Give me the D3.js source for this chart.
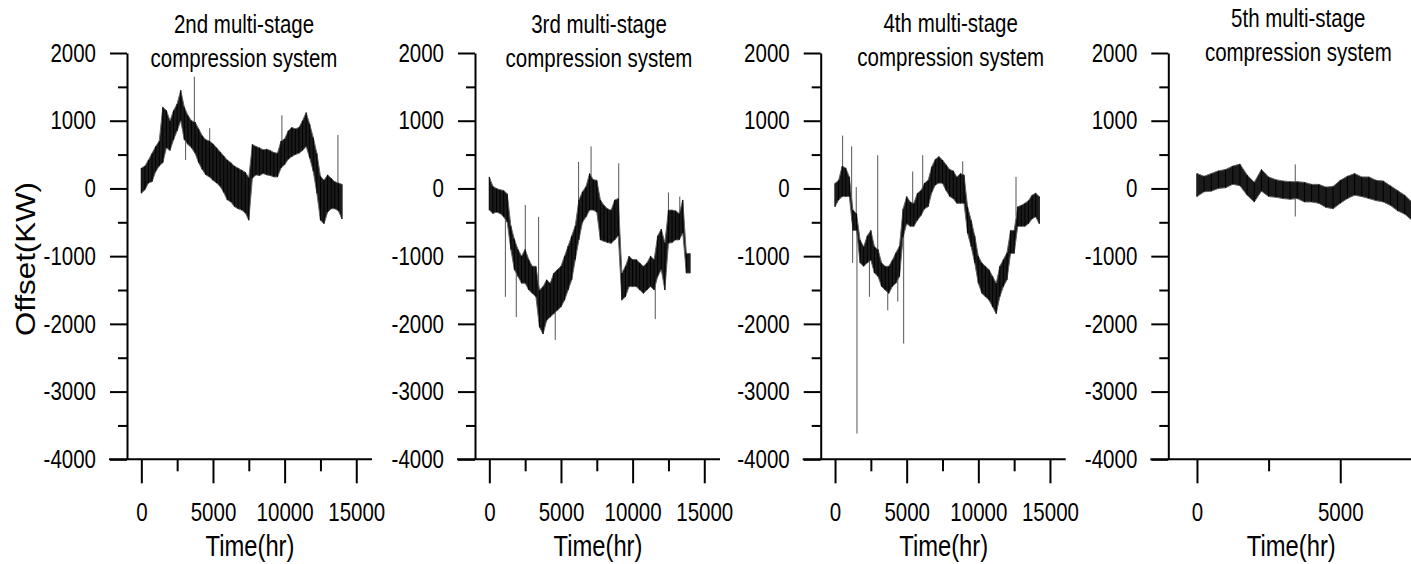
<!DOCTYPE html>
<html>
<head>
<meta charset="utf-8">
<script src="https://cdn.jsdelivr.net/npm/d3@7"></script>
<style>
  body { margin: 0; background: #fff; }
  text { font-family: "Liberation Sans", Arial, sans-serif; fill: #000; }
</style>
</head>
<body>
<svg id="chart" width="1411" height="564"></svg>
<script>
// ---- data (hours, kW) ----
const titles = ["2nd multi-stage", "3rd multi-stage", "4th multi-stage", "5th multi-stage"];
const subtitle = "compression system";
const yLabel = "Offset(KW)";
const xLabel = "Time(hr)";

const yMajor = [-4000, -3000, -2000, -1000, 0, 1000, 2000];
const yMinor = [-3500, -2500, -1500, -500, 500, 1500];
const xMajorLong = [0, 5000, 10000, 15000];
const xMinorLong = [2500, 7500, 12500];
const xMajorShort = [0, 5000];
const xMinorShort = [2500, 7500];

const hours2 = d3.range(0, 14001, 250);
const lo2 = [-70,-20,80,100,250,330,380,600,560,720,850,1000,720,650,600,520,380,280,200,170,120,80,30,-60,-170,-200,-270,-300,-320,-360,-470,150,200,190,220,200,190,170,170,300,350,430,470,500,520,560,620,450,250,-70,-470,-520,-350,-300,-300,-330,-450];
const hi2 = [300,330,420,520,620,700,1200,1150,1000,1150,1250,1450,1200,1080,1000,980,880,780,720,700,660,600,540,480,420,380,330,300,270,240,160,650,620,600,570,580,560,530,520,700,730,850,900,880,900,1000,1120,950,750,520,180,120,200,150,100,80,60];
const spikes2 = [[3090, 420], [3700, 1650], [4770, 890], [9810, 1080], [13720, 790]];

const hours3 = d3.range(0, 14001, 250);
const lo3 = [-320,-370,-350,-370,-420,-500,-900,-1200,-1300,-1400,-1400,-1500,-1550,-1600,-2050,-2150,-1950,-1900,-1850,-1800,-1750,-1650,-1500,-1350,-1050,-760,-500,-420,-320,-320,-350,-760,-780,-800,-810,-760,-700,-1650,-1600,-1450,-1450,-1450,-1500,-1550,-1500,-1450,-1500,-1300,-1200,-1500,-810,-800,-760,-760,-660,-1250,-1250];
const hi3 = [170,30,0,-20,-30,-80,-550,-750,-900,-1000,-900,-1050,-1150,-1150,-1500,-1450,-1350,-1400,-1250,-1200,-1150,-1000,-850,-700,-550,-170,-50,30,220,130,120,-170,-250,-300,-320,-170,-150,-1250,-1150,-1000,-1050,-1050,-1100,-1150,-1100,-1000,-1050,-700,-600,-800,-320,-320,-330,-370,-170,-960,-960];
const spikes3 = [[1120, -1600], [1880, -1900], [2510, -245], [3440, -420], [4600, -2240], [6230, 390], [7100, 620], [9030, 370], [11580, -1930], [12500, -60], [13290, -120]];

const hours4 = d3.range(0, 14251, 250);
const lo4 = [-270,-170,-120,-120,-120,-620,-620,-1100,-1150,-1100,-1060,-1250,-1300,-1450,-1500,-1550,-1450,-1400,-1300,-720,-520,-560,-560,-470,-400,-300,-270,-60,50,80,75,-30,-120,-150,-220,-220,-220,-660,-860,-1100,-1400,-1550,-1600,-1650,-1750,-1850,-1600,-1450,-1350,-960,-960,-560,-560,-560,-520,-450,-420,-520];
const hi4 = [75,120,330,300,170,-320,-370,-760,-860,-700,-620,-860,-900,-1100,-1150,-1150,-1060,-950,-850,-300,-120,-200,-220,-70,-30,80,120,320,430,470,420,350,280,260,170,220,200,-270,-470,-700,-1000,-1100,-1150,-1200,-1300,-1400,-1150,-1050,-950,-620,-620,-270,-250,-220,-180,-100,-70,-120];
const spikes4 = [[530, 780], [1160, 620], [1230, -1100], [1480, 20], [1530, -3620], [2400, -1600], [2980, 490], [3680, -1800], [4380, -1670], [4790, -2290], [5420, 250], [6120, 490], [8910, 400], [12630, 170]];

const hours5 = d3.range(0, 7501, 250);
const lo5 = [-120,-50,-40,0,10,60,40,-100,-200,-40,-120,-130,-150,-160,-150,-200,-200,-220,-280,-300,-220,-150,-100,-120,-150,-180,-200,-250,-330,-380,-470];
const hi5 = [220,180,220,260,280,330,360,200,90,280,170,130,110,100,100,90,60,60,20,30,120,180,220,170,170,120,110,40,-30,-100,-200];
const spikes5 = [[3430, -415], [3430, 355]];

// ---- layout ----
const panels = [
  { left: 127,    xMax: 16000, hours: hours2, lo: lo2, hi: hi2, spikes: spikes2, major: xMajorLong,  minor: xMinorLong,  titleDx: 117, titleY: 33 },
  { left: 475,    xMax: 16000, hours: hours3, lo: lo3, hi: hi3, spikes: spikes3, major: xMajorLong,  minor: xMinorLong,  titleDx: 124, titleY: 33 },
  { left: 820.7,  xMax: 16000, hours: hours4, lo: lo4, hi: hi4, spikes: spikes4, major: xMajorLong,  minor: xMinorLong,  titleDx: 130, titleY: 32 },
  { left: 1168.3, xMax: 7500,  hours: hours5, lo: lo5, hi: hi5, spikes: spikes5, major: xMajorShort, minor: xMinorShort, titleDx: 130, titleY: 27 }
];
const plotW = 243.6;
const squeeze = 0.82; // the reference uses a condensed sans

// move x/y of a text into a transform so it can be squeezed horizontally
function narrow(sel) {
  sel.each(function () {
    const t = d3.select(this);
    const tx = +t.attr("x") || 0, ty = +t.attr("y") || 0;
    t.attr("x", 0).attr("y", 0).attr("transform", `translate(${tx},${ty}) scale(${squeeze},1)`);
  });
}

const svg = d3.select("#chart");
const y = d3.scaleLinear().domain([-4000, 2000]).range([459.3, 53]);

panels.forEach((p, i) => {
  const x = d3.scaleLinear().domain([-1000, p.xMax]).range([p.left, p.left + plotW]);
  const g = svg.append("g");

  // series: filled noise band + outlier spikes
  const rows = p.hours.map((t, k) => ({ t, lo: p.lo[k], hi: p.hi[k] }));

  g.selectAll("line.spike")
    .data(p.spikes)
    .enter().append("line")
    .attr("class", "spike")
    .attr("x1", d => x(d[0]))
    .attr("x2", d => x(d[0]))
    .attr("y1", d => {
      const r = rows[d3.bisectCenter(p.hours, d[0])];
      return y((r.lo + r.hi) / 2);
    })
    .attr("y2", d => y(d[1]))
    .attr("stroke", "#555")
    .attr("stroke-width", 1);

  g.append("path")
    .datum(rows)
    .attr("d", d3.area().x(d => x(d.t)).y0(d => y(d.lo)).y1(d => y(d.hi)))
    .attr("fill", "#1a1a1a")
    .attr("stroke", "#666")
    .attr("stroke-width", 1)
    .attr("stroke-linejoin", "bevel");

  // one hairline per sample, like the dense raw trace
  g.selectAll("line.hair")
    .data(rows)
    .enter().append("line")
    .attr("class", "hair")
    .attr("x1", d => x(d.t)).attr("x2", d => x(d.t))
    .attr("y1", d => y(d.lo)).attr("y2", d => y(d.hi))
    .attr("stroke", "#000")
    .attr("stroke-width", 1);

  // x axis
  const gx = g.append("g").attr("transform", `translate(0,${y(-4000)})`);
  const gxMinor = g.append("g").attr("transform", `translate(0,${y(-4000)})`);
  gx.call(d3.axisBottom(x).tickValues(p.major).tickSize(24).tickFormat(d => String(d)));
  gxMinor.call(d3.axisBottom(x).tickValues(p.minor).tickSize(12).tickFormat(""));
  g.selectAll(".domain").remove();
  g.selectAll(".tick line").attr("stroke", "#000").attr("stroke-width", 2);
  gx.selectAll(".tick text").attr("y", 62).attr("dy", 0).attr("font-size", 25).attr("font-family", null).call(narrow);
  gx.append("line")
    .attr("x1", p.left - 18).attr("x2", p.left + 245)
    .attr("stroke", "#000").attr("stroke-width", 2);

  // y axis
  const gyMinor = g.append("g").attr("transform", `translate(${p.left},0)`);
  const gy = g.append("g").attr("transform", `translate(${p.left},0)`);
  gyMinor.call(d3.axisLeft(y).tickValues(yMinor).tickSize(9).tickSizeOuter(0).tickFormat(""));
  gy.call(d3.axisLeft(y).tickValues(yMajor).tickSize(17).tickSizeOuter(0).tickFormat(d => String(d)));
  gyMinor.select(".domain").remove();
  gy.select(".domain").attr("stroke", "#000").attr("stroke-width", 2);
  gy.selectAll(".tick line").attr("stroke", "#000").attr("stroke-width", 2);
  gyMinor.selectAll(".tick line").attr("stroke", "#000").attr("stroke-width", 2);
  gy.selectAll(".tick text").attr("x", -31).attr("dy", "0.33em").attr("font-size", 25).attr("font-family", null).call(narrow);

  // titles
  const tx = p.left + p.titleDx;
  g.append("text").attr("x", tx).attr("y", p.titleY).attr("text-anchor", "middle")
    .attr("font-size", 25).text(titles[i]).call(narrow);
  g.append("text").attr("x", tx).attr("y", p.titleY + 34).attr("text-anchor", "middle")
    .attr("font-size", 25).text(subtitle).call(narrow);

  // x label
  g.append("text").attr("x", p.left + 123).attr("y", 556).attr("text-anchor", "middle")
    .attr("font-size", 29).text(xLabel).call(narrow);
});

svg.selectAll("g[font-family]").attr("font-family", null);

svg.append("text")
  .attr("transform", "translate(35,259) rotate(-90)")
  .attr("text-anchor", "middle")
  .attr("font-size", 28)
  .attr("textLength", 154)
  .attr("lengthAdjust", "spacingAndGlyphs")
  .text(yLabel);
</script>
</body>
</html>
